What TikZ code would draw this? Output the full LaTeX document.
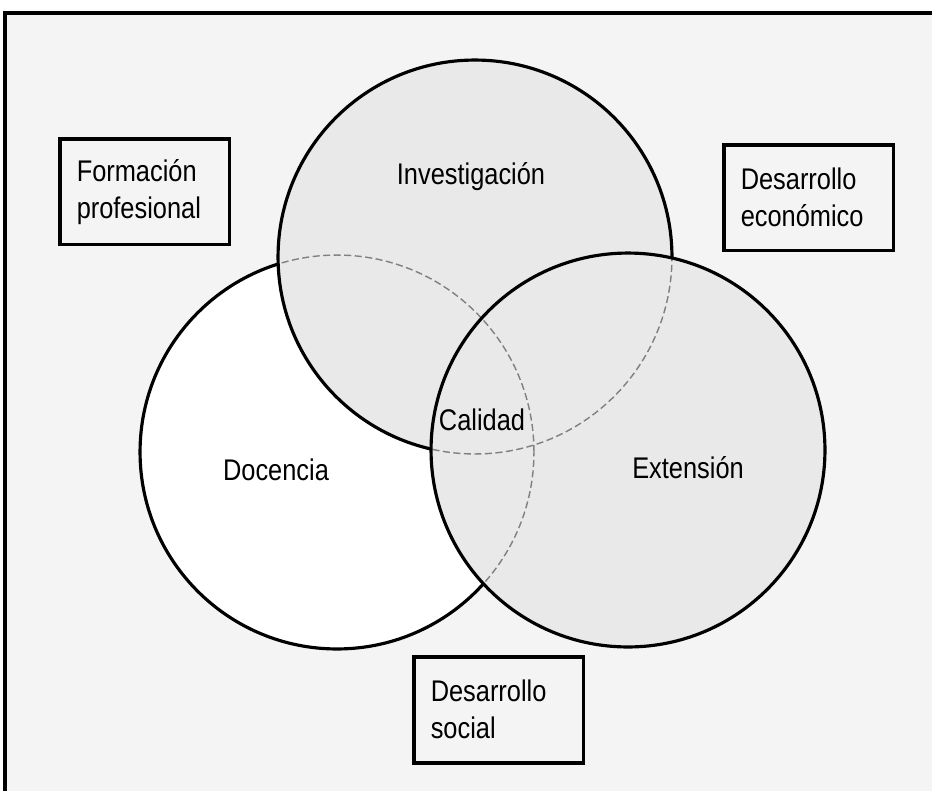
\documentclass[tikz,border=0pt]{standalone}
\usepackage{fontspec}
\setmainfont{Liberation Sans}[FakeStretch=0.85]
\newcommand{\rad}{3.94cm}
\newcommand{\ring}[1]{\draw[ringline] (#1) circle (\rad)}
\newcommand{\hidden}[2]{\begin{scope}
	\clip (#1) circle (\rad);
	\draw[hiddenline] (#2) circle (\rad);
	\end{scope}}
\tikzset{
	ringline/.style={line width=1.8pt, black},
	hiddenline/.style={line width=0.8pt, black!50, dash pattern=on 4pt off 2pt},
	label/.style={font=\fontsize{17pt}{21pt}\selectfont, inner sep=0pt},
	outcome/.style={draw, line width=2pt, align=left, text width=2.72cm,
		inner xsep=0.34cm, minimum width=3.4cm, minimum height=2.12cm,
		font=\fontsize{17pt}{21pt}\selectfont, anchor=north west}
}
\definecolor{paper}{gray}{0.955}
\definecolor{circgray}{gray}{0.915}

\begin{document}
\begin{tikzpicture}[x=0.02cm, y=-0.02cm]
\useasboundingbox (0,0) rectangle (932,791);
\clip (0,0) rectangle (932,791);
%Frame
	\fill[paper] (5,13) rectangle (932,791);
	\draw[line width=2pt] (5,791) |- (932,13);
%Centres
	\coordinate (cinv) at (475,257);
	\coordinate (cdoc) at (337,452);
	\coordinate (cext) at (628,450);
%Docencia
	\fill[white] (cdoc) circle (\rad);
	\ring{cdoc};
%Investigacion over it
	\fill[circgray] (cinv) circle (\rad);
	\hidden{cinv}{cdoc};
	\ring{cinv};
%Extension on top
	\fill[circgray] (cext) circle (\rad);
	\hidden{cext}{cdoc};
	\hidden{cext}{cinv};
	\ring{cext};
%Labels
	\node[label] (inv) at (471,177) {Investigación};
	\node[label] (doc) at (276,470) {Docencia};
	\node[label] (ext) at (688,468) {Extensión};
	\node[label] (cal) at (482,420) {Calidad};
%Boxes
	\node[outcome] (form) at (58,137) {Formación\\profesional};
	\node[outcome] (econ) at (722,143) {Desarrollo\\económico};
	\node[outcome] (social) at (412,655) {Desarrollo\\social};
\end{tikzpicture}
\end{document}
